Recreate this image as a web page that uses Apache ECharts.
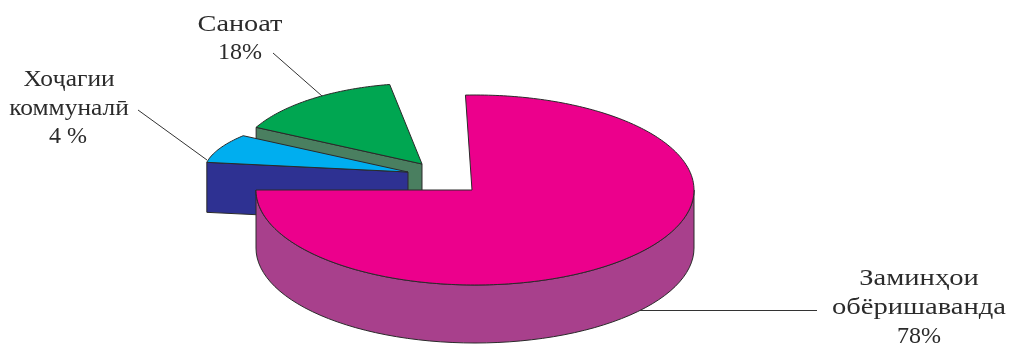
<!DOCTYPE html>
<html>
<head>
<meta charset="utf-8">
<style>html,body{margin:0;padding:0;background:#fff}#main{width:1010px;height:347px}</style>
<script src="https://cdn.jsdelivr.net/npm/echarts@6/dist/echarts.min.js"></script>
</head>
<body>
<div id="main"></div>
<script>
// drawn back to front
var categories = ['Саноат', 'Хоҷагии\nкоммуналӣ', 'Заминҳои\nобёришаванда'];
var shareText = ['18%', '4 %', '78%'];
// slice sweep in degrees, as drawn in the picture
var sweepDeg = [53, 27, 272.5];

// pie layout
var cx = 475, cy = 190, rx = 219, ry = 95;
var sliceStyle = [
	{start: -63, r: 0.85, rY: 0.85, dx: -53, dy: -26, depth: 50, top: '#00a651', wall: '#4a7f60'},
	{start: -81, r: 0.93, rY: 0.65, dx: -67, dy: -18, depth: 50, top: '#00aeef', wall: '#2e3192'},
	{start: -2.5, r: 1, rY: 1, dx: 0, dy: 0, depth: 58, top: '#ec008c', wall: '#a8408c'}
];
var edgeColor = '#2a2a2a';
var labelPos = [[240, 25], [69, 94], [919, 293]];
var sharePos = [[240, 53], [68, 137], [919, 337]];
var labelScale = [1.18, 1.06, 1.19];
var leaders = [[[273, 53], [322, 96]], [[138, 110], [207, 160]], [[640, 310.5], [817, 310.5]]];

function rimPoint(s, deg, down) {
	var a = deg * Math.PI / 180;
	return [
		cx + s.dx + s.r * rx * Math.sin(a),
		cy + s.dy - s.rY * ry * Math.cos(a) + (down || 0)
	];
}

function renderSlice(params, api) {
	var s = sliceStyle[params.dataIndex];
	var sweep = api.value(0);
	var end = s.start + sweep;
	var apex = [cx + s.dx - (s.r === 1 ? 3 : 0), cy + s.dy];
	var children = [];
	var edgeStyle = {stroke: edgeColor, lineWidth: 1, lineJoin: 'round'};
	var i, a;

	// front wall under the rim
	var from = Math.max(s.start, 90), to = Math.min(end, 270);
	if (to > from) {
		var wall = [];
		for (i = 0; i <= 60; i++) wall.push(rimPoint(s, from + (to - from) * i / 60));
		for (i = 60; i >= 0; i--) wall.push(rimPoint(s, from + (to - from) * i / 60, s.depth));
		children.push({type: 'polygon', shape: {points: wall}, style: Object.assign({fill: s.wall}, edgeStyle)});
	}
	// cut face that looks at the viewer
	if (s.start < -45) {
		var p = rimPoint(s, s.start);
		children.push({
			type: 'polygon',
			shape: {points: [p, apex, [apex[0], apex[1] + s.depth], [p[0], p[1] + s.depth]]},
			style: Object.assign({fill: s.wall}, edgeStyle)
		});
	}
	// top face
	var pts = [apex];
	var n = Math.max(8, Math.round(sweep));
	for (i = 0; i <= n; i++) {
		a = s.start + sweep * i / n;
		pts.push(rimPoint(s, a));
	}
	children.push({type: 'polygon', shape: {points: pts}, style: Object.assign({fill: s.top}, edgeStyle)});
	return {type: 'group', children: children};
}

var graphics = [];
leaders.forEach(function (l) {
	graphics.push({
		type: 'line',
		z: 10,
		shape: {x1: l[0][0], y1: l[0][1], x2: l[1][0], y2: l[1][1]},
		style: {stroke: '#333', lineWidth: 1}
	});
});
categories.forEach(function (name, i) {
	graphics.push({
		type: 'text',
		z: 10,
		x: labelPos[i][0],
		y: labelPos[i][1],
		scaleX: labelScale[i],
		style: {
			text: name,
			font: '24px "Liberation Serif"',
			lineHeight: 29,
			fill: '#2b2b2b',
			align: 'center',
			verticalAlign: 'middle'
		}
	});
	graphics.push({
		type: 'text',
		z: 10,
		x: sharePos[i][0],
		y: sharePos[i][1],
		style: {
			text: shareText[i],
			font: '24px "Liberation Serif"',
			fill: '#2b2b2b',
			align: 'center',
			verticalAlign: 'middle'
		}
	});
});

var myChart = echarts.init(document.getElementById('main'));
myChart.setOption({
	animation: false,
	backgroundColor: '#fff',
	graphic: graphics,
	series: [{
		type: 'custom',
		coordinateSystem: 'none',
		renderItem: renderSlice,
		clip: false,
		data: sweepDeg.map(function (v, i) { return {name: categories[i], value: [v]}; })
	}]
});
</script>
</body>
</html>
